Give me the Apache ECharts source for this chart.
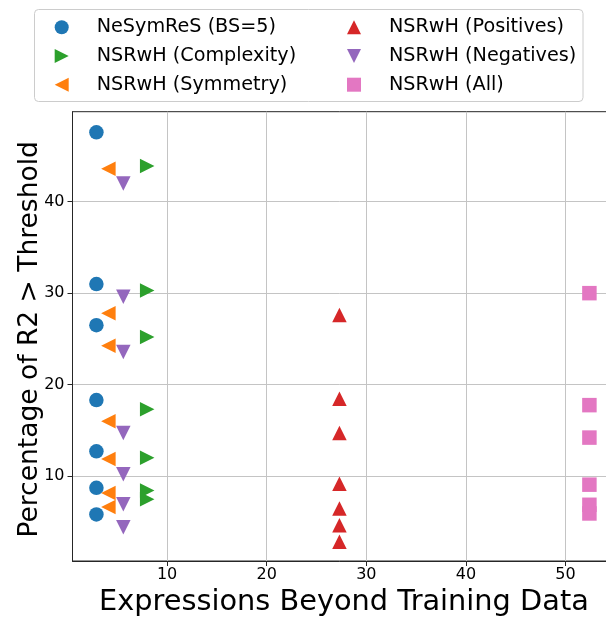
<!DOCTYPE html>
<html>
<head>
<meta charset="utf-8">
<script src="https://cdn.jsdelivr.net/npm/echarts@6/dist/echarts.min.js"></script>
<style>
  html, body { margin: 0; padding: 0; background: #ffffff; }
  #chart { width: 606px; height: 617px; }
</style>
</head>
<body>
<div id="chart"></div>
<script>
// Series names, in legend order (two columns of three)
const seriesNames = [
  'NeSymReS (BS=5)',
  'NSRwH (Complexity)',
  'NSRwH (Symmetry)',
  'NSRwH (Positives)',
  'NSRwH (Negatives)',
  'NSRwH (All)'
];

// Number of expressions beyond the training data, one per method
const xNeSymReS = 2.9;
const xComplexity = 8.0;
const xSymmetry = 4.1;
const xPositives = 27.3;
const xNegatives = 5.6;
const xAll = 52.4;

// Percentage of R2 above each threshold
const yNeSymReS = [47.6, 31.0, 26.5, 18.3, 12.7, 8.7, 5.8];
const yComplexity = [43.9, 30.3, 25.2, 17.3, 12.0, 8.4, 7.45];
const ySymmetry = [43.6, 27.8, 24.25, 16.0, 11.85, 8.15, 6.6];
const yPositives = [27.6, 18.45, 14.7, 9.15, 6.45, 4.6, 2.8];
const yNegatives = [42.0, 29.6, 23.55, 14.7, 10.2, 6.9, 4.4];
const yAll = [30.0, 17.75, 14.2, 9.05, 6.85, 5.9];

// Axis tick labels
const xTicks = [10, 20, 30, 40, 50];
const yTicks = [10, 20, 30, 40];

const colors = ['#1f77b4', '#2ca02c', '#ff7f0e', '#d62728', '#9467bd', '#e377c2'];

// Marker shapes: circle, triangles pointing right / left / up / down, square
const symbols = [
  'circle',
  'path://M0,0L2,1L0,2Z',
  'path://M2,0L0,1L2,2Z',
  'path://M1,0L2,2L0,2Z',
  'path://M0,0L2,0L1,2Z',
  'path://M0,0L2,0L2,2L0,2Z'
];

const xs = [xNeSymReS, xComplexity, xSymmetry, xPositives, xNegatives, xAll];
const ys = [yNeSymReS, yComplexity, ySymmetry, yPositives, yNegatives, yAll];

const FONT = 'DejaVu Sans';
const MARK = 14.5;

const series = seriesNames.map((name, i) => ({
  name: name,
  type: 'scatter',
  symbol: symbols[i],
  symbolSize: MARK,
  itemStyle: { color: colors[i], opacity: 1 },
  emphasis: { disabled: true },
  data: ys[i].map(v => [xs[i], v])
}));

function legendFor(names, left) {
  return {
    orient: 'vertical',
    left: left,
    top: 13.3,
    padding: 0,
    itemGap: 0.7,
    itemWidth: 60,
    itemHeight: 14,
    symbolKeepAspect: true,
    selectedMode: false,
    textStyle: {
      fontFamily: FONT,
      fontSize: 19.2,
      color: '#000000',
      lineHeight: 22,
      padding: [0, 0, 6, 0]
    },
    data: names.map(n => ({ name: n, icon: symbols[seriesNames.indexOf(n)] }))
  };
}

const axisLineStyle = { color: '#262626', width: 1 };

const option = {
  animation: false,
  backgroundColor: '#ffffff',
  graphic: [{
    type: 'rect',
    z: 0,
    shape: { x: 34.5, y: 9.5, width: 548.5, height: 92, r: 4 },
    style: { fill: 'rgba(255,255,255,0.8)', stroke: '#cccccc', lineWidth: 1 }
  }],
  legend: [
    legendFor(seriesNames.slice(0, 3), 54.7),
    legendFor(seriesNames.slice(3, 6), 347)
  ],
  grid: {
    left: 72.5,
    top: 111.7,
    width: 542.8,
    height: 449.3,
    outerBoundsMode: 'none',
    containLabel: false,
    show: true,
    borderColor: '#262626',
    borderWidth: 1,
    backgroundColor: '#ffffff'
  },
  xAxis: {
    type: 'value',
    min: 0.5,
    max: 55,
    name: 'Expressions Beyond Training Data',
    nameLocation: 'middle',
    nameGap: 27,
    nameMoveOverlap: false,
    nameTextStyle: { fontFamily: FONT, fontSize: 28.8, color: '#000000' },
    axisLine: { show: true, lineStyle: axisLineStyle },
    axisTick: { show: true, length: 5, lineStyle: axisLineStyle, customValues: xTicks },
    axisLabel: {
      fontFamily: FONT, fontSize: 16, color: '#000000', margin: 6,
      customValues: xTicks
    },
    splitLine: { show: true, lineStyle: { color: '#c4c4c4', width: 1 } }
  },
  yAxis: {
    type: 'value',
    min: 0.7,
    max: 49.85,
    name: 'Percentage of R2 > Threshold',
    nameLocation: 'middle',
    nameRotate: 90,
    nameGap: 29,
    nameMoveOverlap: false,
    nameTextStyle: { fontFamily: FONT, fontSize: 26.5, color: '#000000', padding: [0, 6, 0, 0] },
    axisLine: { show: true, lineStyle: axisLineStyle },
    axisTick: { show: true, length: 5, lineStyle: axisLineStyle, customValues: yTicks },
    axisLabel: {
      fontFamily: FONT, fontSize: 16, color: '#000000', margin: 8,
      customValues: yTicks
    },
    splitLine: { show: true, lineStyle: { color: '#c4c4c4', width: 1 } }
  },
  series: series
};

const chart = echarts.init(document.getElementById('chart'), null, { renderer: 'canvas' });
chart.setOption(option);
</script>
</body>
</html>
